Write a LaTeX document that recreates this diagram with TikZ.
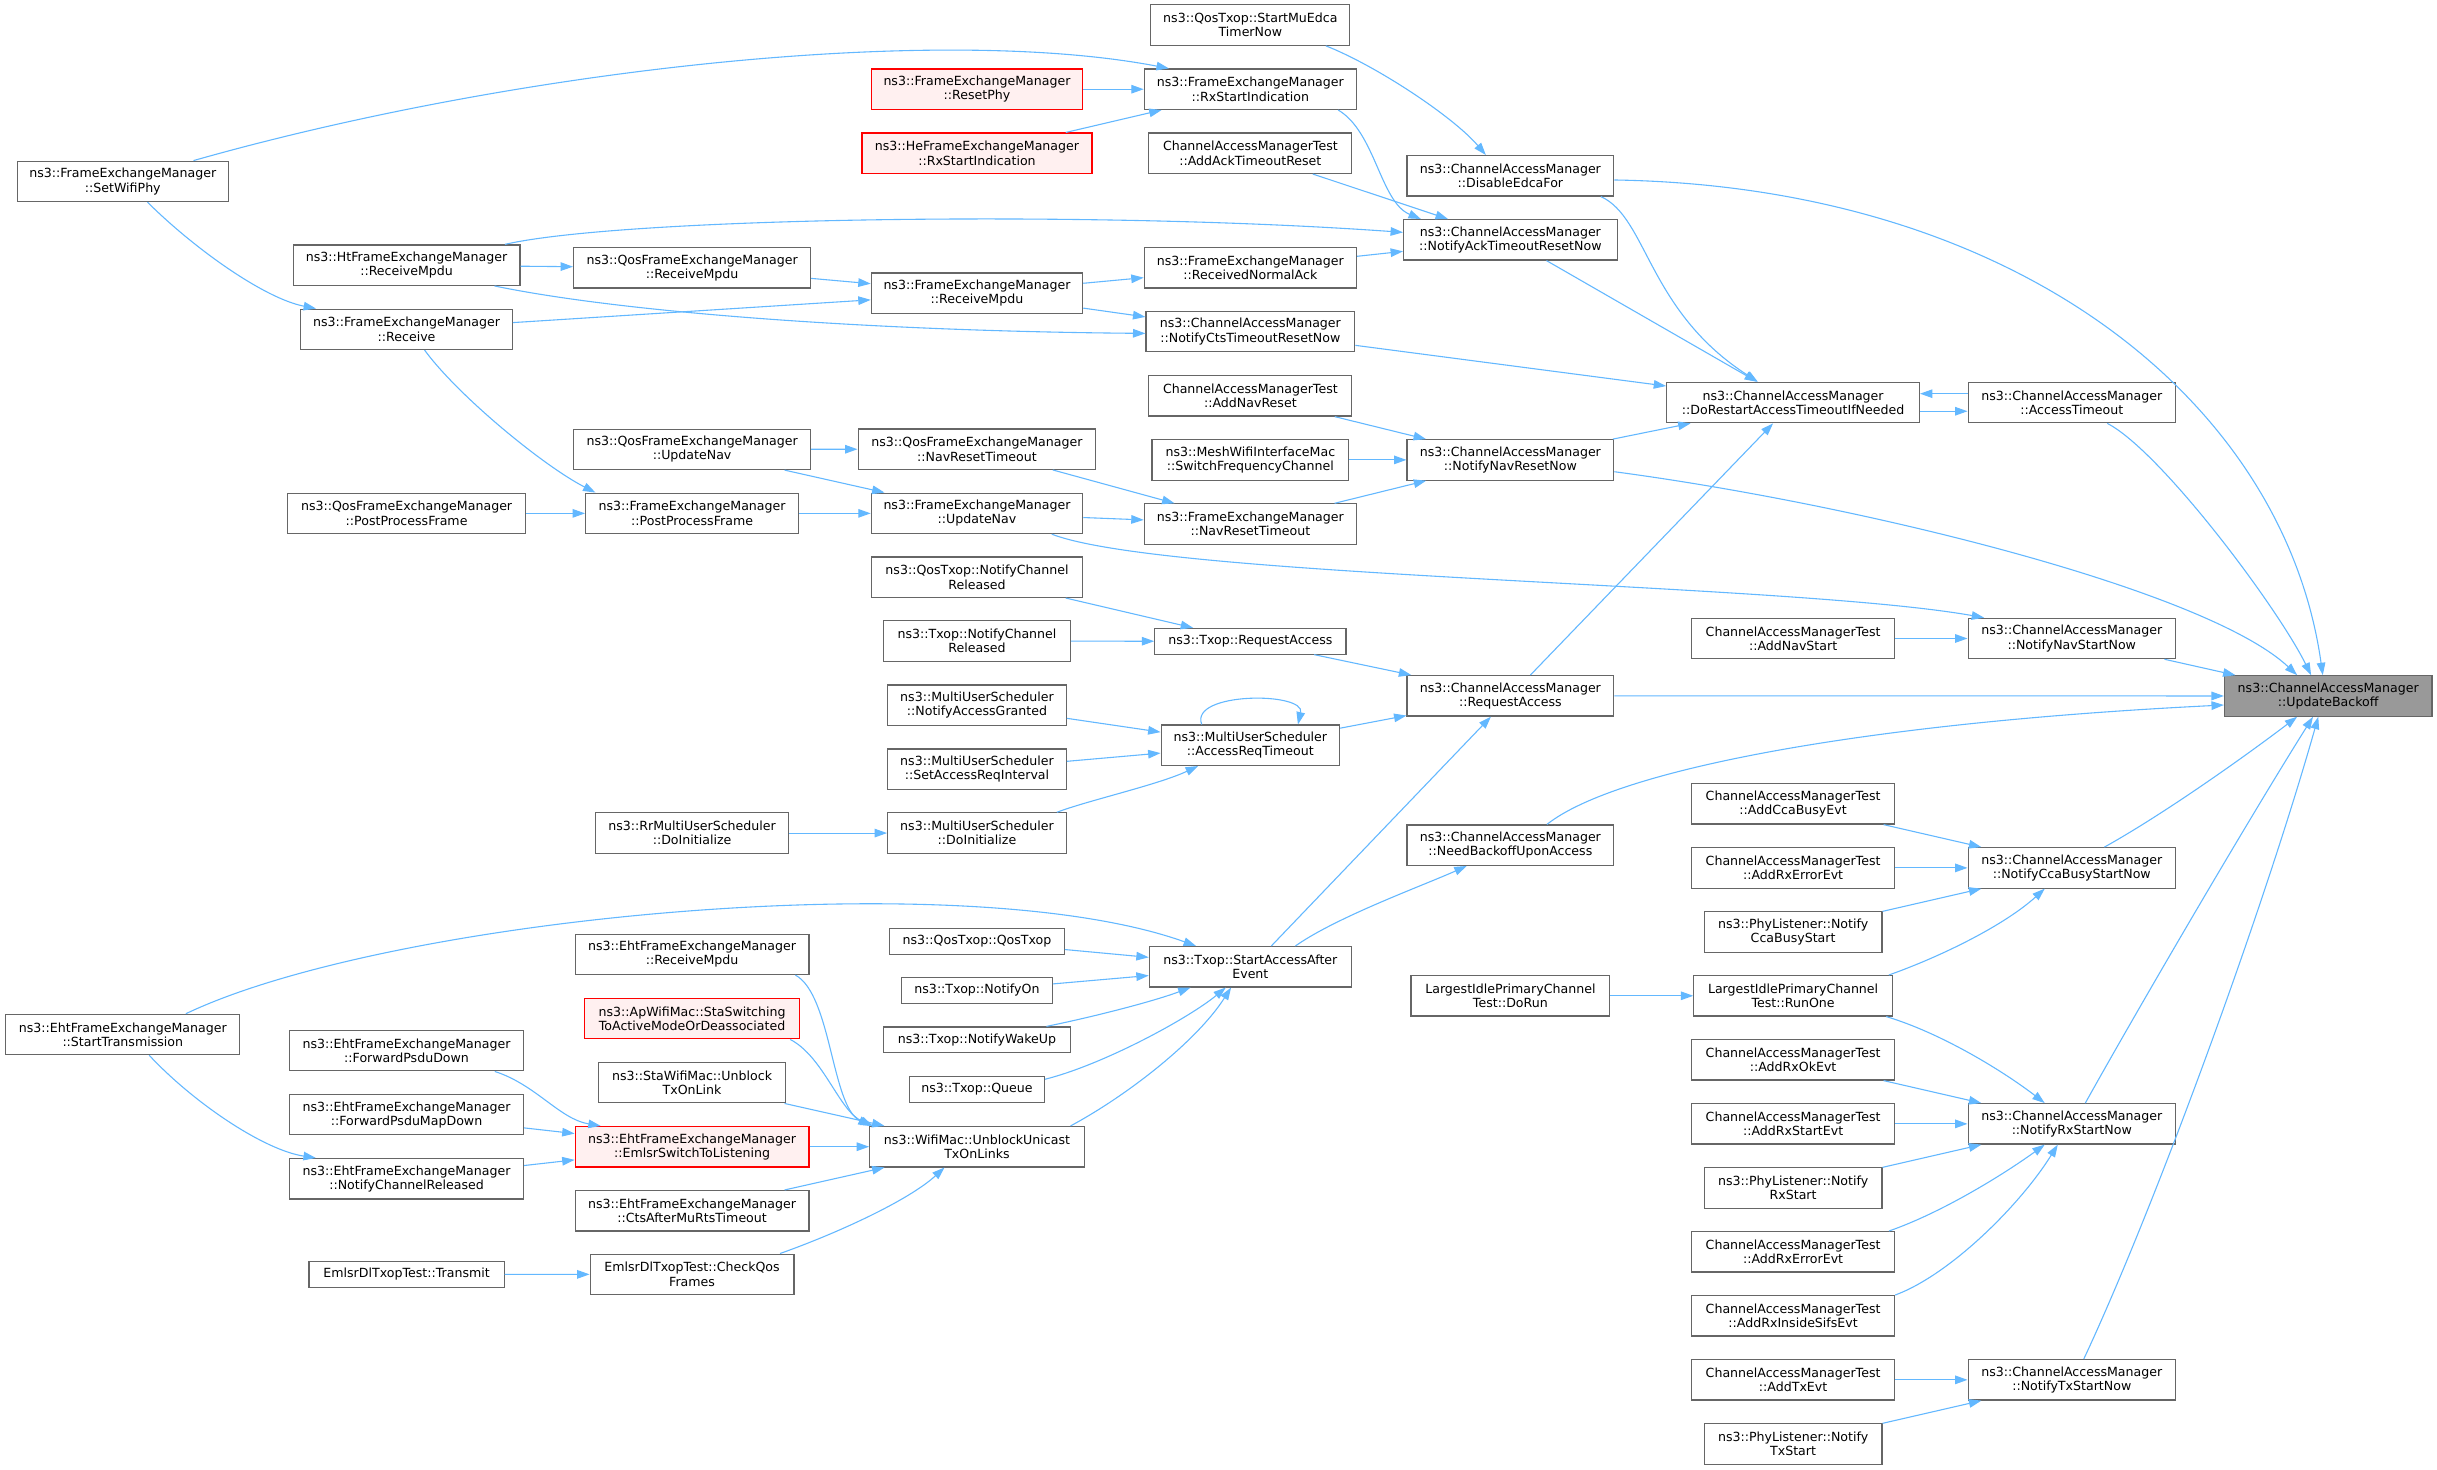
\documentclass[tikz,border=0pt]{standalone}
\usepackage{fontspec}
\setmainfont{DejaVu Sans}
\usetikzlibrary{arrows.meta,calc}
\definecolor{edgeblue}{HTML}{63B8FF}
\definecolor{bordergray}{HTML}{666666}
\definecolor{redfill}{HTML}{FFF0F0}
\definecolor{grayfill}{HTML}{999999}
\begin{document}
\begin{tikzpicture}[x=1pt,y=-1pt,
  font=\fontsize{8.1}{9.2}\selectfont,
  nd/.style={draw=bordergray, fill=white, line width=0.75pt, inner sep=0pt, minimum height=26, align=center},
  one/.style={minimum height=16.5},
  ndred/.style={nd, draw=red, fill=redfill},
  ndgray/.style={nd, fill=grayfill},
  edg/.style={draw=edgeblue, line width=0.7pt, -{Triangle[length=8pt,width=5.5pt]}}]
\fill[white] (0,0) rectangle (1568,945.2);
\useasboundingbox (0,0) rectangle (1568,945.2);

% column 0a
\node[nd, minimum width=136] (swp) at (79,116.7) {ns3::FrameExchangeManager\\::SetWifiPhy};
\node[nd, minimum width=150.4] (est) at (79,665.6) {ns3::EhtFrameExchangeManager\\::StartTransmission};
% column 0b
\node[nd, minimum width=146] (htrm) at (261.6,170.6) {ns3::HtFrameExchangeManager\\::ReceiveMpdu};
\node[nd, minimum width=136] (recv) at (261.6,211.9) {ns3::FrameExchangeManager\\::Receive};
\node[nd, minimum width=153] (qpp) at (261.6,330.3) {ns3::QosFrameExchangeManager\\::PostProcessFrame};
\node[nd, minimum width=150.4] (fpd) at (261.6,676) {ns3::EhtFrameExchangeManager\\::ForwardPsduDown};
\node[nd, minimum width=150.4] (fpmd) at (261.6,717.2) {ns3::EhtFrameExchangeManager\\::ForwardPsduMapDown};
\node[nd, minimum width=150.4] (ncr) at (261.6,758.4) {ns3::EhtFrameExchangeManager\\::NotifyChannelReleased};
\node[nd, one, minimum width=125.5] (tr) at (261.6,820) {EmlsrDlTxopTest::Transmit};
% column 1a
\node[nd, minimum width=152.5] (qrm) at (445.3,172.3) {ns3::QosFrameExchangeManager\\::ReceiveMpdu};
\node[nd, minimum width=152.5] (qun) at (445.3,289.1) {ns3::QosFrameExchangeManager\\::UpdateNav};
\node[nd, minimum width=137] (fpp) at (445.3,330.3) {ns3::FrameExchangeManager\\::PostProcessFrame};
\node[nd, minimum width=124.5] (rrdi) at (445.3,536) {ns3::RrMultiUserScheduler\\::DoInitialize};
\node[nd, minimum width=150.4] (erm) at (445.3,614) {ns3::EhtFrameExchangeManager\\::ReceiveMpdu};
\node[ndred, minimum width=138.3] (apw) at (445.3,655.4) {ns3::ApWifiMac::StaSwitching\\ToActiveModeOrDeassociated};
\node[nd, minimum width=120.4] (sta) at (445.3,696.6) {ns3::StaWifiMac::Unblock\\TxOnLink};
\node[ndred, minimum width=150.4] (emls) at (445.3,737.8) {ns3::EhtFrameExchangeManager\\::EmlsrSwitchToListening};
\node[nd, minimum width=150.4] (cts) at (445.3,779) {ns3::EhtFrameExchangeManager\\::CtsAfterMuRtsTimeout};
\node[nd, minimum width=131.2] (cqf) at (445.3,819.9) {EmlsrDlTxopTest::CheckQos\\Frames};
% column 1b
\node[ndred, minimum width=136] (rphy) at (628.6,57.4) {ns3::FrameExchangeManager\\::ResetPhy};
\node[ndred, minimum width=148] (herx) at (628.6,98.6) {ns3::HeFrameExchangeManager\\::RxStartIndication};
\node[nd, minimum width=136] (frm) at (628.6,188.6) {ns3::FrameExchangeManager\\::ReceiveMpdu};
\node[nd, minimum width=153] (qnrt) at (628.6,289) {ns3::QosFrameExchangeManager\\::NavResetTimeout};
\node[nd, minimum width=136] (fun) at (628.6,330.3) {ns3::FrameExchangeManager\\::UpdateNav};
\node[nd, minimum width=136] (qncr) at (628.6,371.4) {ns3::QosTxop::NotifyChannel\\Released};
\node[nd, minimum width=120] (tncr) at (628.6,412.5) {ns3::Txop::NotifyChannel\\Released};
\node[nd, minimum width=115] (nag) at (628.6,453.7) {ns3::MultiUserScheduler\\::NotifyAccessGranted};
\node[nd, minimum width=115] (sari) at (628.6,494.9) {ns3::MultiUserScheduler\\::SetAccessReqInterval};
\node[nd, minimum width=115] (mdi) at (628.6,536) {ns3::MultiUserScheduler\\::DoInitialize};
\node[nd, one, minimum width=112.3] (qtq) at (628.6,605.7) {ns3::QosTxop::QosTxop};
\node[nd, one, minimum width=96.8] (non) at (628.6,637.3) {ns3::Txop::NotifyOn};
\node[nd, one, minimum width=120] (nwu) at (628.6,669) {ns3::Txop::NotifyWakeUp};
\node[nd, one, minimum width=86.8] (que) at (628.6,701) {ns3::Txop::Queue};
\node[nd, minimum width=138] (uut) at (628.6,737.8) {ns3::WifiMac::UnblockUnicast\\TxOnLinks};
% column 2a
\node[nd, minimum width=128] (smu) at (804.5,16.1) {ns3::QosTxop::StartMuEdca\\TimerNow};
\node[nd, minimum width=136.5] (frx) at (804.5,57.4) {ns3::FrameExchangeManager\\::RxStartIndication};
\node[nd, minimum width=130.6] (aatr) at (804.5,98.6) {ChannelAccessManagerTest\\::AddAckTimeoutReset};
\node[nd, minimum width=136.5] (rna) at (804.5,172.3) {ns3::FrameExchangeManager\\::ReceivedNormalAck};
\node[nd, minimum width=134.3] (ncts) at (804.5,213.4) {ns3::ChannelAccessManager\\::NotifyCtsTimeoutResetNow};
\node[nd, minimum width=130.6] (anr) at (804.5,254.7) {ChannelAccessManagerTest\\::AddNavReset};
\node[nd, minimum width=126.5] (mesh) at (804.5,295.9) {ns3::MeshWifiInterfaceMac\\::SwitchFrequencyChannel};
\node[nd, minimum width=136.5] (fnrt) at (804.5,337.2) {ns3::FrameExchangeManager\\::NavResetTimeout};
\node[nd, one, minimum width=123] (tra) at (804.5,412.6) {ns3::Txop::RequestAccess};
\node[nd, minimum width=114.8] (art) at (804.5,479.5) {ns3::MultiUserScheduler\\::AccessReqTimeout};
\node[nd, minimum width=130] (saa) at (804.5,622) {ns3::Txop::StartAccessAfter\\Event};
% column 2b
\node[nd, minimum width=133] (def) at (971.8,113.1) {ns3::ChannelAccessManager\\::DisableEdcaFor};
\node[nd, minimum width=137.4] (natr) at (971.8,154.3) {ns3::ChannelAccessManager\\::NotifyAckTimeoutResetNow};
\node[nd, minimum width=133] (nnr) at (971.8,295.9) {ns3::ChannelAccessManager\\::NotifyNavResetNow};
\node[nd, minimum width=133] (cra) at (971.8,447.7) {ns3::ChannelAccessManager\\::RequestAccess};
\node[nd, minimum width=133] (nbu) at (971.8,543.8) {ns3::ChannelAccessManager\\::NeedBackoffUponAccess};
\node[nd, minimum width=128] (dorun) at (971.8,640.7) {LargestIdlePrimaryChannel\\Test::DoRun};
% column 3
\node[nd, minimum width=162.6] (dra) at (1153.7,259) {ns3::ChannelAccessManager\\::DoRestartAccessTimeoutIfNeeded};
\node[nd, minimum width=130.7] (ans) at (1153.7,410.8) {ChannelAccessManagerTest\\::AddNavStart};
\node[nd, minimum width=130.7] (acb) at (1153.7,517.2) {ChannelAccessManagerTest\\::AddCcaBusyEvt};
\node[nd, minimum width=130.7] (are1) at (1153.7,558.4) {ChannelAccessManagerTest\\::AddRxErrorEvt};
\node[nd, minimum width=114.3] (plcb) at (1153.7,599.6) {ns3::PhyListener::Notify\\CcaBusyStart};
\node[nd, minimum width=127.7] (run) at (1153.7,640.7) {LargestIdlePrimaryChannel\\Test::RunOne};
\node[nd, minimum width=130.7] (arok) at (1153.7,681.9) {ChannelAccessManagerTest\\::AddRxOkEvt};
\node[nd, minimum width=130.7] (arst) at (1153.7,723.1) {ChannelAccessManagerTest\\::AddRxStartEvt};
\node[nd, minimum width=114.3] (plrx) at (1153.7,764.3) {ns3::PhyListener::Notify\\RxStart};
\node[nd, minimum width=130.7] (are2) at (1153.7,805.4) {ChannelAccessManagerTest\\::AddRxErrorEvt};
\node[nd, minimum width=130.7] (aris) at (1153.7,846.6) {ChannelAccessManagerTest\\::AddRxInsideSifsEvt};
\node[nd, minimum width=130.7] (atx) at (1153.7,887.8) {ChannelAccessManagerTest\\::AddTxEvt};
\node[nd, minimum width=114.3] (pltx) at (1153.7,929) {ns3::PhyListener::Notify\\TxStart};
% column 4
\node[nd, minimum width=133.4] (at) at (1333,259) {ns3::ChannelAccessManager\\::AccessTimeout};
\node[nd, minimum width=133.4] (nns) at (1333,410.8) {ns3::ChannelAccessManager\\::NotifyNavStartNow};
\node[nd, minimum width=133.4] (ncb) at (1333,558.4) {ns3::ChannelAccessManager\\::NotifyCcaBusyStartNow};
\node[nd, minimum width=133.4] (nrx) at (1333,723.1) {ns3::ChannelAccessManager\\::NotifyRxStartNow};
\node[nd, minimum width=133.4] (ntx) at (1333,887.8) {ns3::ChannelAccessManager\\::NotifyTxStartNow};
% column 5
\node[ndgray, minimum width=133.5] (ub) at (1498,447.8) {ns3::ChannelAccessManager\\::UpdateBackoff};

% straight connectors
\draw[edg] (htrm) -- (qrm);
\draw[edg] (qrm) -- (frm);
\draw[edg] (recv) -- (frm);
\draw[edg] (qpp) -- (fpp);
\draw[edg] (fpp) -- (fun);
\draw[edg] (qun) -- (qnrt);
\draw[edg] (qun) -- (fun);
\draw[edg] (qnrt) -- (fnrt);
\draw[edg] (fun) -- (fnrt);
\draw[edg] (rphy) -- (frx);
\draw[edg] (herx) -- (frx);
\draw[edg] (aatr) -- (natr);
\draw[edg] (frm) -- (rna);
\draw[edg] (frm) -- (ncts);
\draw[edg] (rna) -- (natr);
\draw[edg] (natr) -- (dra);
\draw[edg] (ncts) -- (dra);
\draw[edg] (anr) -- (nnr);
\draw[edg] (mesh) -- (nnr);
\draw[edg] (fnrt) -- (nnr);
\draw[edg] (nnr) -- (dra);
\draw[edg] (cra) -- (dra);
\draw[edg] (qncr) -- (tra);
\draw[edg] (tncr) -- (tra);
\draw[edg] (tra) -- (cra);
\draw[edg] (nag) -- (art);
\draw[edg] (sari) -- (art);
\draw[edg] (art) -- (cra);
\draw[edg] (rrdi) -- (mdi);
\draw[edg] (qtq) -- (saa);
\draw[edg] (non) -- (saa);
\draw[edg] (sta) -- (uut);
\draw[edg] (emls) -- (uut);
\draw[edg] (cts) -- (uut);
\draw[edg] (fpmd) -- (emls);
\draw[edg] (ncr) -- (emls);
\draw[edg] (tr) -- (cqf);
\draw[edg] (ans) -- (nns);
\draw[edg] (nns) -- (ub);
\draw[edg] (cra) -- (ub);
\draw[edg] (acb) -- (ncb);
\draw[edg] (are1) -- (ncb);
\draw[edg] (plcb) -- (ncb);
\draw[edg] (dorun) -- (run);
\draw[edg] (arok) -- (nrx);
\draw[edg] (arst) -- (nrx);
\draw[edg] (plrx) -- (nrx);
\draw[edg] (atx) -- (ntx);
\draw[edg] (pltx) -- (ntx);
\draw[edg] ($(dra.east)+(0,5.6)$) -- ($(at.west)+(0,5.6)$);
\draw[edg] ($(at.west)+(0,-5.7)$) -- ($(dra.east)+(0,-5.7)$);
\draw[edg] ($(saa.north)+(13.5,0)$) -- ($(cra.south)+(-12.5,0)$);

% curved connectors
\draw[edg] ($(swp.north)+(45.5,0)$) .. controls (330,45) and (600,15) .. ($(frx.north west)+(16.2,0)$);
\draw[edg] ($(swp.south)+(15.9,0)$) .. controls (125,160) and (170,192) .. ($(recv.north west)+(10.1,0)$);
\draw[edg] ($(htrm.north east)+(-10.1,0)$) .. controls (400,140) and (700,135) .. ($(natr.west)+(0,-4.8)$);
\draw[edg] ($(htrm.south east)+(-16.8,0)$) .. controls (400,201) and (560,213) .. ($(ncts.west)+(0,1.1)$);
\draw[edg] ($(recv.south)+(11.6,0)$) .. controls (295,255) and (350,300) .. ($(fpp.north west)+(6.7,0)$);
\draw[edg] ($(fun.south)+(48.1,0)$) .. controls (750,372) and (1150,375) .. ($(nns.north west)+(10.7,0)$);
\draw[edg] ($(frx.south)+(56.5,0)$) .. controls (885,85) and (888,130) .. ($(natr.north west)+(11.5,0)$);
\draw[edg] ($(smu.south)+(48.5,0)$) .. controls (885,42) and (935,75) .. ($(def.north)+(-15.8,0)$);
\draw[edg] ($(def.south)+(58.2,0)$) .. controls (1060,140) and (1060,200) .. ($(dra.north)+(-22.7,0)$);
\draw[edg] ($(def.east)+(0,2.7)$) .. controls (1300,120) and (1470,260) .. ($(ub.north)+(-3.5,0)$);
\draw[edg] ($(at.south)+(22.8,0)$) .. controls (1390,290) and (1465,390) .. ($(ub.north)+(-11,0)$);
\draw[edg] ($(nnr.east)+(0,7.6)$) .. controls (1200,325) and (1420,380) .. ($(ub.north)+(-20,0)$);
\draw[edg] ($(nbu.north)+(23.5,0)$) .. controls (1040,495) and (1200,465) .. ($(ub.west)+(0,5.8)$);
\draw[edg] ($(ncb.north)+(21,0)$) .. controls (1390,525) and (1440,490) .. ($(ub.south)+(-20,0)$);
\draw[edg] ($(nrx.north)+(8.7,0)$) .. controls (1375,650) and (1445,530) .. ($(ub.south)+(-9.8,0)$);
\draw[edg] ($(ntx.north)+(7.7,0)$) .. controls (1385,780) and (1455,590) .. ($(ub.south)+(-6.4,0)$);
\draw[edg] ($(run.north east)+(-2.6,0)$) .. controls (1250,615) and (1290,595) .. ($(ncb.south)+(-17.4,0)$);
\draw[edg] ($(run.south east)+(-4.3,0)$) .. controls (1250,665) and (1290,690) .. ($(nrx.north)+(-17.4,0)$);
\draw[edg] ($(are2.north east)+(-4,0)$) .. controls (1250,780) and (1290,755) .. ($(nrx.south)+(-17.4,0)$);
\draw[edg] (aris.north east) .. controls (1255,820) and (1300,775) .. ($(nrx.south)+(-9,0)$);
\draw[edg] ($(saa.north)+(29,0)$) .. controls (860,590) and (915,570) .. ($(nbu.south)+(-28.1,0)$);
\draw[edg] ($(est.north)+(40.6,0)$) .. controls (250,590) and (620,555) .. ($(saa.north west)+(30.4,0)$);
\draw[edg] ($(nwu.north)+(44.7,0)$) .. controls (700,655) and (740,645) .. ($(saa.south west)+(26.9,0)$);
\draw[edg] ($(que.east)+(0,-6.6)$) .. controls (710,685) and (765,655) .. ($(saa.south)+(-15.8,0)$);
\draw[edg] ($(uut.north)+(60.2,0)$) .. controls (725,705) and (770,670) .. ($(saa.south)+(-12.4,0)$);
\draw[edg] ($(erm.south east)+(-9.1,0)$) .. controls (535,640) and (535,712) .. ($(uut.north west)+(1,0)$);
\draw[edg] ($(apw.south east)+(-6.4,0)$) .. controls (530,680) and (540,715) .. ($(uut.north west)+(2.5,0)$);
\draw[edg] ($(cqf.north east)+(-9.4,0)$) .. controls (540,793) and (585,772) .. ($(uut.south)+(-20.9,0)$);
\draw[edg] ($(fpd.south east)+(-18.8,0)$) .. controls (345,698) and (360,720) .. ($(emls.north west)+(16.8,0)$);
\draw[edg] ($(est.south)+(17,0)$) .. controls (125,710) and (170,740) .. ($(ncr.north west)+(17.2,0)$);
\draw[edg] ($(mdi.north)+(51.4,0)$) .. controls (700,515) and (745,505) .. ($(art.south west)+(24.1,0)$);
\draw[edg] ($(art.north)+(-31.3,0)$) .. controls (765,445) and (840,445) .. ($(art.north)+(30.6,0)$);
\end{tikzpicture}
\end{document}
